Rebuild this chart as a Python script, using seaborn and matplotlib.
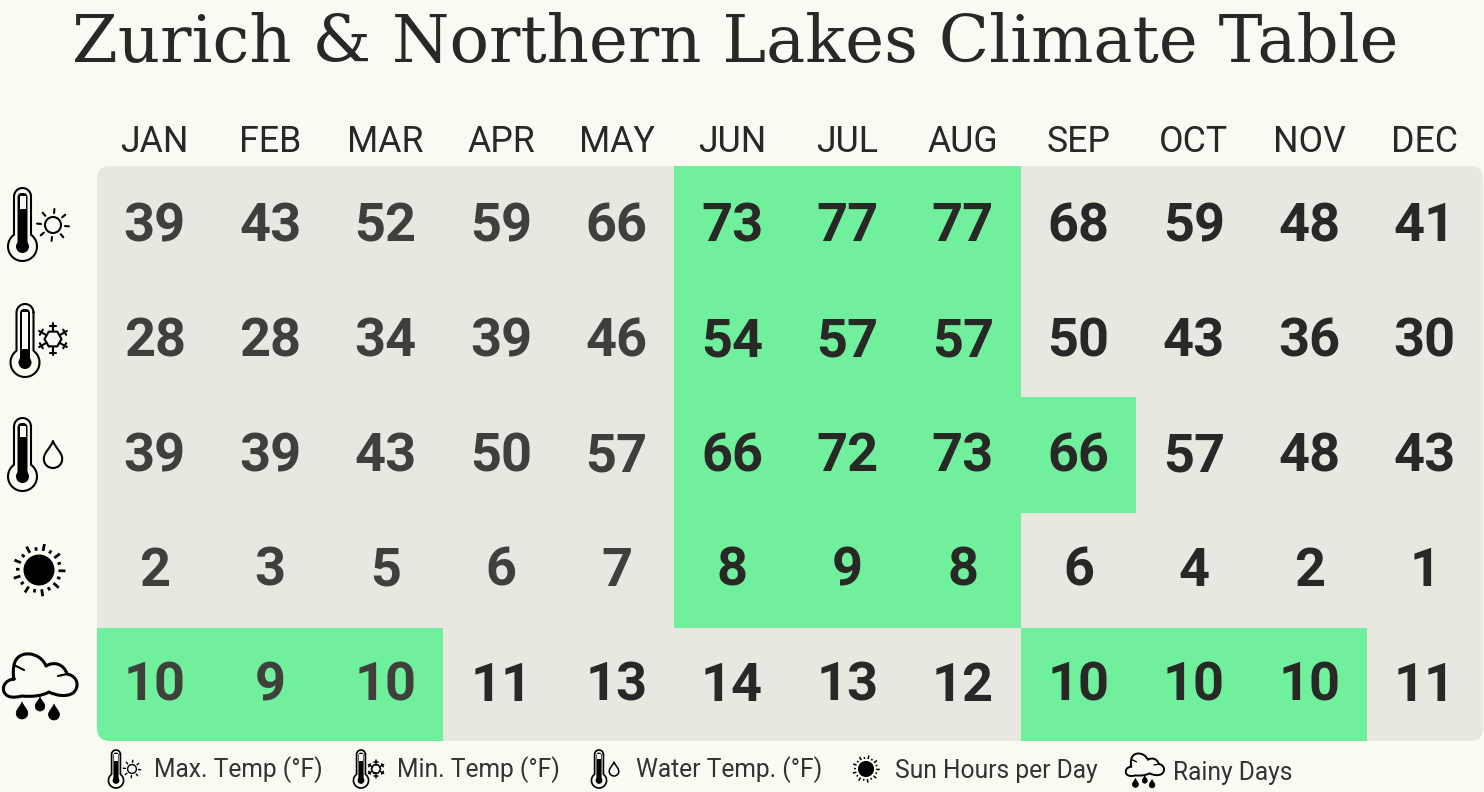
#!/usr/bin/env python3
"""Zurich & Northern Lakes climate table, drawn as a seaborn heatmap."""

import numpy as np
import matplotlib
matplotlib.use("Agg")
import matplotlib.pyplot as plt
from matplotlib.colors import ListedColormap
from matplotlib.patches import Circle, FancyBboxPatch, PathPatch
from matplotlib.path import Path
import seaborn as sns

months = ["JAN", "FEB", "MAR", "APR", "MAY", "JUN", "JUL", "AUG", "SEP", "OCT", "NOV", "DEC"]
max_temp = [39, 43, 52, 59, 66, 73, 77, 77, 68, 59, 48, 41]
min_temp = [28, 28, 34, 39, 46, 54, 57, 57, 50, 43, 36, 30]
water_temp = [39, 39, 43, 50, 57, 66, 72, 73, 66, 57, 48, 43]
sun_hours = [2, 3, 5, 6, 7, 8, 9, 8, 6, 4, 2, 1]
rainy_days = [10, 9, 10, 11, 13, 14, 13, 12, 10, 10, 10, 11]

# 1 = green "best months" cell
max_best = [0, 0, 0, 0, 0, 1, 1, 1, 0, 0, 0, 0]
min_best = [0, 0, 0, 0, 0, 1, 1, 1, 0, 0, 0, 0]
water_best = [0, 0, 0, 0, 0, 1, 1, 1, 1, 0, 0, 0]
sun_best = [0, 0, 0, 0, 0, 1, 1, 1, 0, 0, 0, 0]
rain_best = [1, 1, 1, 0, 0, 0, 0, 0, 1, 1, 1, 0]

BG = "#fbfaf2"
GREY = "#e8e7e0"
GREEN = "#70f09c"
INK = "#282826"
INK_SOFT = "#3f3f3c"

W, H = 1484, 792


def stroke(ax, verts, codes=None, lw=1.5, fc="none", ec="black", z=5):
    p = PathPatch(Path(verts, codes), fc=fc, ec=ec, lw=lw, zorder=z,
                  capstyle="round", joinstyle="round")
    ax.add_patch(p)


def thermometer(ax, cx, top, height, level, lw=1.5):
    """level is the y pixel where the black column starts."""
    s = height / 73
    r_tube, r_bulb = 8.5 * s, 14.5 * s
    by = top + height - r_bulb
    a = np.arcsin(r_tube / r_bulb)
    # tube cap right to left, then the long way round the bulb
    th = np.linspace(0, np.pi, 16)
    cap = np.column_stack([cx + r_tube * np.cos(th), top + r_tube - r_tube * np.sin(th)])
    t = np.linspace(-a, a - 2 * np.pi, 40)
    bulb = np.column_stack([cx + r_bulb * np.sin(t), by - r_bulb * np.cos(t)])
    stroke(ax, np.vstack([cap, bulb, cap[:1]]), lw=lw, fc=BG)
    # black column and the white slot above it
    ax.add_patch(FancyBboxPatch((cx - 5 * s, top + 5 * s), 10 * s, by - top - 5 * s,
                                boxstyle=f"round,pad=0,rounding_size={4.5 * s}",
                                fc="black", ec="none", zorder=6))
    ax.add_patch(Circle((cx, by), 6.5 * s, fc="black", ec="none", zorder=6))
    ax.add_patch(FancyBboxPatch((cx - 3 * s, top + 7.5 * s), 6 * s, level - top - 7.5 * s,
                                boxstyle="square,pad=0", fc=BG, ec="none", zorder=7))


def sun_small(ax, cx, cy, s=1.0, lw=1.5):
    ax.add_patch(Circle((cx, cy), 8 * s, fc="none", ec="black", lw=lw, zorder=5))
    for ang in np.arange(0, 360, 45) + 5:
        c, d = np.cos(np.radians(ang)), np.sin(np.radians(ang))
        ax.plot([cx + 12 * s * c, cx + 16 * s * c], [cy + 12 * s * d, cy + 16 * s * d],
                color="black", lw=lw, zorder=5, solid_capstyle="round")


def snowflake(ax, cx, cy, s=1.0, lw=1.5):
    ang = np.radians(np.arange(0, 360, 60) + 90)
    hexv = np.column_stack([cx + 8.5 * s * np.cos(ang + np.pi / 6), cy + 8.5 * s * np.sin(ang + np.pi / 6)])
    stroke(ax, np.vstack([hexv, hexv[:1]]), lw=lw)
    for a in ang:
        c, d = np.cos(a), np.sin(a)
        ax.plot([cx + 8 * s * c, cx + 16 * s * c], [cy + 8 * s * d, cy + 16 * s * d],
                color="black", lw=lw, zorder=5, solid_capstyle="round")
        ex, ey = cx + 13.5 * s * c, cy + 13.5 * s * d
        ax.plot([ex - 3 * s * d, ex + 3 * s * d], [ey + 3 * s * c, ey - 3 * s * c],
                color="black", lw=lw, zorder=5, solid_capstyle="round")


def drop(ax, cx, top, h, lw=1.5, fc="none"):
    w = h * 0.34
    M, C, Z = Path.MOVETO, Path.CURVE4, Path.CLOSEPOLY
    v = [(cx, top),
         (cx + w * 0.3, top + h * 0.28), (cx + w, top + h * 0.42), (cx + w, top + h * 0.66),
         (cx + w, top + h * 0.88), (cx + w * 0.5, top + h), (cx, top + h),
         (cx - w * 0.5, top + h), (cx - w, top + h * 0.88), (cx - w, top + h * 0.66),
         (cx - w, top + h * 0.42), (cx - w * 0.3, top + h * 0.28), (cx, top),
         (cx, top)]
    stroke(ax, v, [M] + [C] * 12 + [Z], lw=lw, fc=fc, ec="black")


def big_sun(ax, cx, cy, s=1.0, lw=2.0):
    ax.add_patch(Circle((cx, cy), 15.5 * s, fc="black", ec="none", zorder=5))
    for i, ang in enumerate(np.arange(0, 360, 20) + 2):
        c, d = np.cos(np.radians(ang)), np.sin(np.radians(ang))
        outer = 26.5 if i % 2 == 0 else 23
        ax.plot([cx + 19.5 * s * c, cx + outer * s * c], [cy + 19.5 * s * d, cy + outer * s * d],
                color="black", lw=lw, zorder=5, solid_capstyle="butt")


def cloud(ax, x0, y0, s=1.0, lw=2.2):
    """x0, y0 is the upper-left corner, s=1 gives a 76 px wide cloud."""
    M, C = Path.MOVETO, Path.CURVE4
    pts = [(12, 28),
           (3, 29), (0, 36), (2, 41),
           (5, 47), (12, 47), (20, 45),
           (30, 46), (40, 45), (47, 41),
           (55, 45), (65, 46), (71, 42),
           (78, 36), (76, 25), (65, 23),
           (62, 13), (52, 10), (44, 15),
           (38, 0), (15, -2), (12, 14),
           (11, 20), (11, 24), (12, 28)]
    v = [(x0 + s * a, y0 + s * b) for a, b in pts]
    stroke(ax, v, [M] + [C] * 24, lw=lw, fc=BG)
    for a, b, e, f in [(12, 14, 22, 19), (65, 23, 56, 25)]:
        ax.plot([x0 + s * a, x0 + s * e], [y0 + s * b, y0 + s * f], color="black",
                lw=lw * 0.7, zorder=6, solid_capstyle="round")
    for a, b, h in [(20, 51, 17), (38, 46, 14), (52, 53, 16)]:
        drop(ax, x0 + s * a, y0 + s * b, h * s, lw=0.5, fc="black")


sns.set_theme(style="white")
plt.rcParams["font.family"] = ["Roboto", "DejaVu Sans"]

fig = plt.figure(figsize=(W / 100, H / 100), dpi=100, facecolor=BG)
# rows run 115.5 px, the last one gets cut by the rounded clip at y=741
ax = fig.add_axes([97 / W, 1 - 743.5 / H, 1385.5 / W, 577.5 / H])

values = np.array([max_temp, min_temp, water_temp, sun_hours, rainy_days])
best = np.array([max_best, min_best, water_best, sun_best, rain_best])

sns.heatmap(best, ax=ax, cmap=ListedColormap([GREY, GREEN]), vmin=0, vmax=1, cbar=False,
            annot=values, fmt="d", xticklabels=months, yticklabels=False, linewidths=0,
            annot_kws={"fontsize": 39, "fontweight": 600})
ax.xaxis.tick_top()
ax.tick_params(axis="x", length=0, pad=4, labelsize=25.7, labelcolor=INK, rotation=0)
ax.patch.set_alpha(0)

# left columns print a little softer than the rest
for t in ax.texts:
    col, row = int(t.get_position()[0]), int(t.get_position()[1])
    t.set_color(INK_SOFT if col < 3 or (col < 5 and row < 4) else INK)
    t.set_y(t.get_position()[1] + (3.0 - 0.6 * row) / 115.5)

# rounded outer corners of the table
clip = FancyBboxPatch((97, H - 741), 1385.5, 575, transform=None,
                      boxstyle="round,pad=0,rounding_size=13")
ax.collections[0].set_clip_path(clip)

# full-figure pixel overlay for title, icons and the legend row
ov = fig.add_axes([0, 0, 1, 1])
ov.set_xlim(0, W)
ov.set_ylim(H, 0)
ov.axis("off")
ov.patch.set_alpha(0)

ov.text(735.5, 62, "Zurich & Northern Lakes Climate Table", ha="center", va="baseline",
        family="DejaVu Serif", fontsize=47.3, color=INK)

thermometer(ov, 22.5, 188, 73, 209)
sun_small(ov, 53, 225)
thermometer(ov, 25, 304, 73, 349)
snowflake(ov, 53, 339)
thermometer(ov, 22.5, 418, 73, 437)
drop(ov, 53, 441, 27)
big_sun(ov, 39, 570)
cloud(ov, 2, 651)

# legend row
thermometer(ov, 116, 750, 38, 761, lw=1.2)
sun_small(ov, 132, 769, 0.55, 1.0)
thermometer(ov, 361, 750, 38, 761, lw=1.2)
snowflake(ov, 376, 769, 0.55, 1.1)
thermometer(ov, 599, 750, 38, 759, lw=1.2)
drop(ov, 614, 762, 14, lw=1.1)
big_sun(ov, 866, 769, 0.52, 1.1)
cloud(ov, 1125, 752, 0.52, lw=1.4)

legend_labels = ["Max. Temp (°F)", "Min. Temp (°F)", "Water Temp. (°F)", "Sun Hours per Day", "Rainy Days"]
legend_x = [154, 397, 636, 895, 1173]
legend_y = [777, 777, 777, 778, 780]
for label, lx, ly in zip(legend_labels, legend_x, legend_y):
    ov.text(lx, ly, label, ha="left", va="baseline", fontsize=17.7, color="#333331")

fig.savefig("out.png", dpi=100, facecolor=BG)
